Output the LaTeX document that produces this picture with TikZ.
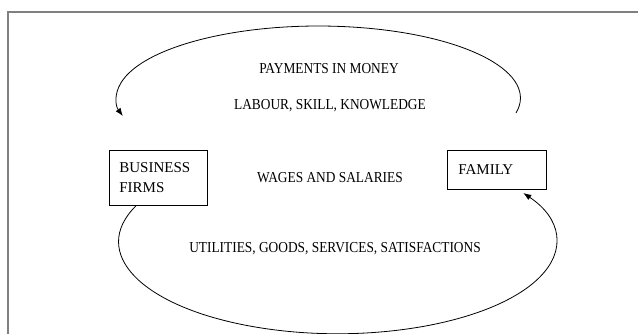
\documentclass[tikz,border=0pt]{standalone}
\usepackage{fontspec}
\setmainfont{Liberation Serif}
\newfontfamily\narrowserif[FakeStretch=0.88]{Liberation Serif}
\usetikzlibrary{arrows.meta}
\tikzset{
  unit/.style={draw, line width=0.8pt, align=left, anchor=north west, inner ysep=0pt,
    font=\fontsize{15}{20}\selectfont},
  flowlbl/.style={anchor=base, font=\narrowserif\fontsize{15.2}{18}\selectfont},
  flow/.style={line width=0.8pt, -{Latex[length=8pt,width=6pt]}}
}
\begin{document}
\begin{tikzpicture}[x=1pt,y=1pt]
\useasboundingbox (0,0) rectangle (638,334);
% outer frame
\draw[gray, line width=1.5pt] (8,-2) -- (8,322) -- (640,322);
% the two units
\node[unit, minimum width=98pt, minimum height=55pt, text width=78pt, inner xsep=10pt] (firms) at (109,184) {BUSINESS\\FIRMS};
\node[unit, minimum width=99pt, minimum height=39pt, text width=77pt, inner xsep=11pt] (family) at (447,184) {FAMILY};
% labels
\node[flowlbl] (money) at (329,260) {PAYMENTS IN MONEY};
\node[flowlbl] (labour) at (330,224) {LABOUR, SKILL, KNOWLEDGE};
\node[flowlbl] (wages) at (330,151) {WAGES AND SALARIES};
\node[flowlbl] (goods) at (335,81) {UTILITIES, GOODS, SERVICES, SATISFACTIONS};
% flows
\coordinate (topstart) at (516,221);
\draw[flow] (topstart) arc[start angle=-12, end angle=194.5, x radius=202pt, y radius=72pt];
\draw[flow] ([xshift=27pt]firms.south west) arc[start angle=157, end angle=392, x radius=219pt, y radius=92pt];
\end{tikzpicture}
\end{document}
